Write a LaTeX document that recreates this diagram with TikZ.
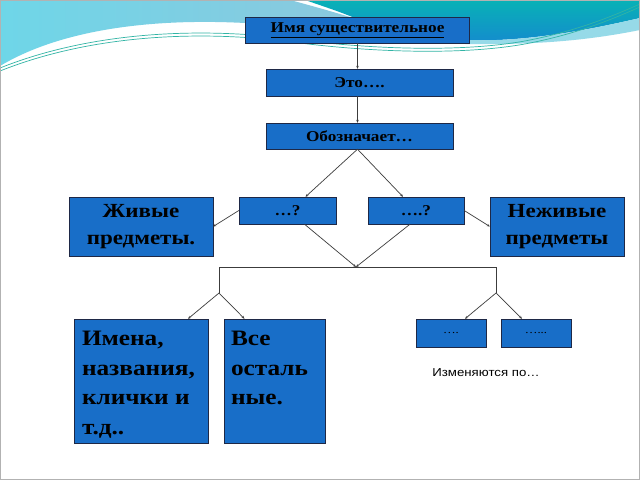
\documentclass[tikz,border=0pt]{standalone}
\usepackage{fontspec}
\setmainfont{Liberation Serif}[FakeStretch=1.15]
\newfontfamily\arialfnt{Liberation Sans}[FakeStretch=1.15]
\usepackage{tikz}
\usetikzlibrary{calc}
\usetikzlibrary{arrows.meta,positioning}
\definecolor{boxblue}{RGB}{24,110,200}
\definecolor{boxline}{RGB}{30,40,70}
\definecolor{wavelt}{RGB}{140,200,222}
\definecolor{wavecy}{RGB}{110,214,232}
\definecolor{waveteal}{RGB}{8,178,182}
\definecolor{wavedeep}{RGB}{20,140,205}
\definecolor{wavepale}{RGB}{150,218,232}
\definecolor{waveline}{RGB}{50,180,165}
\definecolor{linegray}{RGB}{60,60,60}

\begin{document}
\begin{tikzpicture}[x=1pt,y=-1pt,
    blk/.style={draw=boxline,fill=boxblue,inner sep=0pt,font=\bfseries},
    con/.style={draw=linegray,line width=0.7pt},
    arr/.style={con,-{Stealth[length=3pt,width=2.5pt]}}]
  \useasboundingbox (0,0) rectangle (640,480);
  % slide background with the wave on top
  \fill[white] (0,0) rectangle (640,480);
  \shade[left color=wavecy,right color=wavelt] (0,0) -- (290,0) .. controls (320,8) and (340,14) .. (360,20) -- (245,23) .. controls (150,18) and (60,30) .. (0,66) -- cycle;
  \shade[top color=waveteal,bottom color=wavedeep] (305,0) -- (640,0) -- (640,18) .. controls (580,32) and (520,42) .. (470,40) -- (360,20) .. controls (340,12) .. (305,0) -- cycle;
  \fill[wavepale] (430,43) .. controls (530,47) and (590,40) .. (640,30) -- (640,18) .. controls (580,32) and (520,42) .. (470,40) -- cycle;
  \foreach \s in {0,3}
    \draw[waveline,line width=0.7pt,yshift=-\s pt] (0,68) .. controls (90,32) and (200,26) .. (300,40) .. controls (380,50) and (470,52) .. (530,40) .. controls (580,30) and (615,15) .. (640,4);
  \draw[gray!60,line width=1pt] (0.5,0.5) rectangle (639.5,479.5);

  % boxes
  \node[blk,minimum width=224pt,minimum height=26pt,font=\bfseries\fontsize{15}{18}\selectfont] (imya) at (357.5,30) {\underline{Имя существительное}};
  \node[blk,minimum width=187pt,minimum height=27pt,font=\bfseries\fontsize{15}{18}\selectfont] (eto) at (359.5,82.5) {Это….};
  \node[blk,minimum width=187pt,minimum height=26pt,font=\bfseries\fontsize{15}{18}\selectfont] (oboz) at (359.5,136) {Обозначает…};
  \node[blk,minimum width=97pt,minimum height=27pt,font=\bfseries\fontsize{15}{18}\selectfont] (q1) at (287.5,210.5) {…?};
  \node[blk,minimum width=96pt,minimum height=27pt,font=\bfseries\fontsize{15}{18}\selectfont] (q2) at (416,210.5) {….?};
  \node[blk,minimum width=144pt,minimum height=59pt,align=center,font=\bfseries\fontsize{20}{27}\selectfont] (zhiv) at (141,226.5) {Живые\\предметы.};
  \node[blk,minimum width=134pt,minimum height=59pt,align=center,font=\bfseries\fontsize{20}{27}\selectfont] (nezhiv) at (557,226.5) {Неживые\\предметы};
  \node[blk,minimum width=134pt,minimum height=124pt,font=\bfseries\fontsize{22}{29.5}\selectfont] (imena) at (141,381) {\parbox[c][99pt][t]{118pt}{Имена,\\названия,\\клички и\\т.д..}};
  \node[blk,minimum width=101pt,minimum height=124pt,font=\bfseries\fontsize{22}{29.5}\selectfont] (vse) at (274.5,381) {\parbox[c][99pt][t]{87pt}{Все\\осталь\\ные.}};
  \node[blk,minimum width=70pt,minimum height=28pt,font=\fontsize{11}{13}\selectfont] (d1) at (451,333) {….};
  \node[blk,minimum width=70pt,minimum height=28pt,font=\fontsize{11}{13}\selectfont] (d2) at (536,333) {…...};
  \node[font=\arialfnt\fontsize{11.5}{14}\selectfont] (izm) at (486,373) {Изменяются по…};

  % connectors
  \draw[arr] (imya.south) -- (imya.south |- eto.north);
  \draw[arr] (eto.south -| imya.south) -- (oboz.north -| imya.south);
  \draw[arr] (oboz.south -| imya.south) -- ($(q1.north)+(18,0)$);
  \draw[arr] (oboz.south -| imya.south) -- ($(q2.north)+(-13,0)$);
  \draw[arr] (q1.west) -- (zhiv.east);
  \draw[arr] (q2.east) -- (nezhiv.west);
  \coordinate (j) at (356,267);
  \coordinate (jl) at (219,293);
  \coordinate (jr) at (496,293);
  \draw[arr] ($(q1.south)+(17,0)$) -- (j);
  \draw[arr] ($(q2.south)+(-6,0)$) -- (j);
  \draw[con] (jl) -- (jl |- j) -- (jr |- j) -- (jr);
  \draw[arr] (jl) -- ($(imena.north)+(47,0)$);
  \draw[arr] (jl) -- ($(vse.north)+(-30,0)$);
  \draw[arr] (jr) -- ($(d1.north)+(14,0)$);
  \draw[arr] (jr) -- ($(d2.north)+(-14,0)$);
\end{tikzpicture}
\end{document}
